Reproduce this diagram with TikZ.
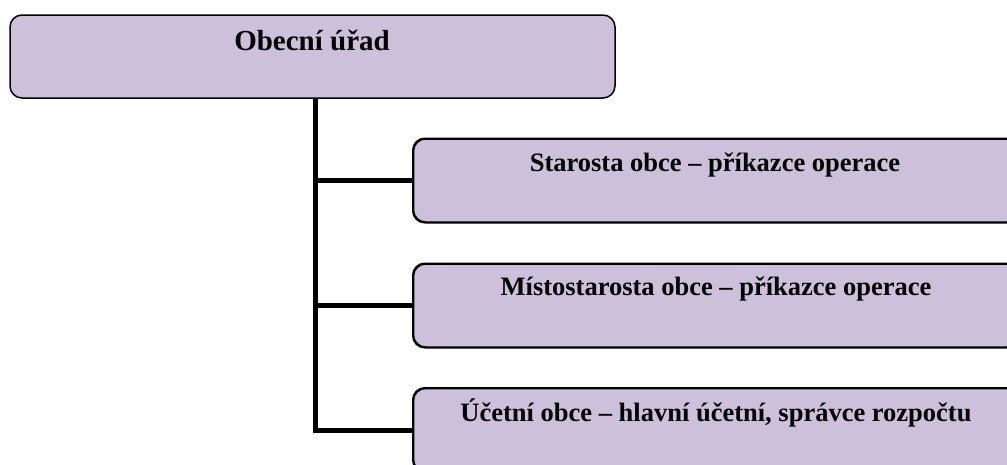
\documentclass[tikz,border=0pt]{standalone}
\usepackage{fontspec}
\setmainfont{Liberation Serif}
\usepackage{xcolor}
\usetikzlibrary{positioning}
\definecolor{lila}{RGB}{204,192,218}

\tikzset{
	utvar/.style={draw=black, line width=1.5pt, fill=lila, rounded corners=12pt,
		minimum width=605pt, minimum height=83pt, inner sep=0pt},
	popis/.style={font=\bfseries\fontsize{26.5}{30}\selectfont, inner sep=0pt},
	vetev/.style={line width=5pt, line cap=butt}
}

\begin{document}
\begin{tikzpicture}[x=1pt, y=1pt]
			\clip (0,0) rectangle (1007,-464);
			
			%% obecni urad
			\node[utvar] (urad) at (312.5,-56.5) {};
			\node[popis, font=\bfseries\fontsize{29}{34}\selectfont] (uradtext) at (312,-40) {Obecní úřad};
			
			%% podrizene funkce
			\node[utvar] (starosta) at (716,-180.5) {};
			\node[popis] (starostatext) at (715,-165) {Starosta obce – příkazce operace};
			
			\node[utvar] (mistostarosta) at (716,-305.5) {};
			\node[popis] (mistostarostatext) at (716,-289) {Místostarosta obce – příkazce operace};
			
			\node[utvar] (ucetni) at (716,-430) {};
			\node[popis] (ucetnitext) at (716,-413) {Účetní obce – hlavní účetní, správce rozpočtu};
			
			%% spojnice
			\coordinate (kmen) at (315,-98);
			\draw[vetev] (kmen) |- (ucetni.west);
			\draw[vetev] (kmen |- starosta.west) -- (starosta.west);
			\draw[vetev] (kmen |- mistostarosta.west) -- (mistostarosta.west);
			
			%% ramecky znovu navrch
			\draw[line width=1.5pt, rounded corners=12pt] (starosta.south west) rectangle (starosta.north east);
			\draw[line width=1.5pt, rounded corners=12pt] (mistostarosta.south west) rectangle (mistostarosta.north east);
			\draw[line width=1.5pt, rounded corners=12pt] (ucetni.south west) rectangle (ucetni.north east);
\end{tikzpicture}
\end{document}
